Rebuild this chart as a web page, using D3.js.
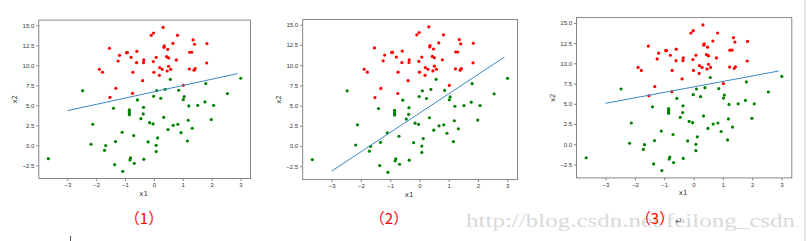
<!DOCTYPE html>
<html>
<head>
<meta charset="utf-8">
<script src="https://cdn.jsdelivr.net/npm/d3@7"></script>
<style>
  body { margin: 0; background: #fff; }
  svg { display: block; }
</style>
</head>
<body>
<div class="chart"></div>
<script>
// red class points (x1, x2)
const redX = [0.32, -0.01, -0.09, 0.82, 1.36, 1.41, 1.84, 0.66, 0.36, 0.35, -1.54, 0.48, -0.59, -0.95, -0.92,
  -1.19, 1.24, 1.31, -0.79, 0.08, 0.44, 0.51, -0.35, 0.78, -1.24, -0.60, -0.36, -0.02, 1.83, -1.89,
  -1.78, -0.73, 0.0, 0.2, 0.29, 0.51, 0.58, 0.46, 1.23, 1.39, 1.43, 0.19, -0.39, -1.32, 1.02, -0.74, -1.52]
const redY = [14.75, 14.04, 13.75, 13.75, 13.17, 12.63, 12.71, 12.75, 12.42, 12.25, 12.13, 12.0, 11.75, 11.58, 11.58,
  11.25, 11.63, 11.63, 11.0, 11.0, 11.08, 10.92, 10.67, 10.67, 10.54, 10.33, 10.33, 10.46, 10.29, 9.5,
  9.13, 9.13, 9.13, 9.71, 9.5, 9.88, 9.5, 9.29, 9.54, 9.38, 9.58, 8.75, 8.08, 7.13, 7.5, 6.5, 6.0]

// green class points
const greenX = [3.01, 0.57, 1.80, -2.47, 0.39, 0.10, 0.86, 2.55, -0.01, 0.24, 1.05, 1.02, -0.57, -1.40, 1.21,
  1.52, 1.77, 2.07, -0.36, -0.85, -0.85, -0.85, -0.85, -0.37, -0.45, -0.15, -0.03, 0.34, 1.19, 1.99,
  -2.12, 0.67, 0.83, 1.33, 0.49, -1.10, 0.94, -0.70, 0.13, -0.20, -1.33, 1.16, -2.18, -1.67, 0.08,
  -1.71, 0.08, -3.66, -0.81, -0.83, -0.35, -0.68, -1.36, -1.08]
const greenY = [8.38, 8.25, 7.71, 6.83, 7.0, 6.83, 6.88, 6.46, 6.13, 5.88, 6.08, 5.71, 5.67, 4.63, 4.92,
  5.0, 5.42, 5.0, 4.75, 4.42, 4.21, 4.0, 3.83, 3.92, 3.33, 2.83, 2.67, 3.5, 3.13, 3.21,
  2.63, 2.5, 2.63, 2.13, 1.96, 1.63, 1.58, 1.21, 0.92, 0.42, 0.46, 0.54, 0.13, -0.04, 0.0,
  -0.63, -0.79, -1.67, -1.58, -1.83, -1.75, -2.25, -2.42, -3.25]

// decision boundary end points for each of the three runs
const lineX = [-3, 2.9]
const lineY1 = [4.33, 8.96]
const lineY2 = [-3.1, 11.0]
const lineY3 = [5.06, 9.05]

const xTicks = [-3, -2, -1, 0, 1, 2, 3]
const yTicks = [-2.5, 0, 2.5, 5, 7.5, 10, 12.5, 15]
const captions = ['（1）', '（2）', '（3）']

const panels = [
  { left: 38.8, right: 250.5, top: 20.1, bottom: 178.5, lineY: lineY1, cx: 144 },
  { left: 302.7, right: 517.5, top: 19.5, bottom: 179.6, lineY: lineY2, cx: 389 },
  { left: 576.5, right: 791.8, top: 17.6, bottom: 177.9, lineY: lineY3, cx: 655 }
]

const width = 808
const height = 241

const svg = d3.select('.chart')
  .append('svg')
  .attr('width', width)
  .attr('height', height)
  .style('font-family', 'DejaVu Sans')

const red = redX.map((x, i) => [x, redY[i]])
const green = greenX.map((x, i) => [x, greenY[i]])

panels.forEach((p, k) => {
  const x = d3.scaleLinear().domain([-3.99, 3.35]).range([p.left, p.right])
  const y = d3.scaleLinear().domain([-4.15, 15.65]).range([p.bottom, p.top])
  const g = svg.append('g')

  const xAxis = g.append('g')
    .attr('transform', `translate(0, ${p.bottom})`)
    .call(d3.axisBottom(x).tickValues(xTicks).tickSize(2.5).tickPadding(2)
      .tickFormat(d => d < 0 ? '\u2212' + Math.abs(d) : d))
  const yAxis = g.append('g')
    .attr('transform', `translate(${p.left}, 0)`)
    .call(d3.axisLeft(y).tickValues(yTicks).tickSize(2.5).tickPadding(2)
      .tickFormat(d => (d < 0 ? '\u2212' : '') + Math.abs(d).toFixed(1)))

  ;[xAxis, yAxis].forEach(a => {
    a.select('.domain').remove()
    a.selectAll('line').attr('stroke', '#555').attr('stroke-width', 0.7)
    a.selectAll('text').attr('fill', '#333').style('font-size', '6px')
  })

  // frame
  g.append('rect')
    .attr('x', p.left).attr('y', p.top)
    .attr('width', p.right - p.left).attr('height', p.bottom - p.top)
    .attr('fill', 'none').attr('stroke', '#7a7a7a').attr('stroke-width', 0.9)

  g.selectAll('circle.red')
    .data(red)
    .join('circle')
    .attr('class', 'red')
    .attr('cx', d => x(d[0]))
    .attr('cy', d => y(d[1]))
    .attr('r', 1.6)
    .attr('fill', '#ff0000')

  g.selectAll('circle.green')
    .data(green)
    .join('circle')
    .attr('class', 'green')
    .attr('cx', d => x(d[0]))
    .attr('cy', d => y(d[1]))
    .attr('r', 1.6)
    .attr('fill', '#008000')

  g.append('path')
    .datum(lineX.map((v, i) => [v, p.lineY[i]]))
    .attr('d', d3.line().x(d => x(d[0])).y(d => y(d[1])))
    .attr('fill', 'none')
    .attr('stroke', '#3a88c4')
    .attr('stroke-width', 1)

  g.append('text')
    .attr('x', (p.left + p.right) / 2 - 1)
    .attr('y', p.bottom + 17)
    .attr('text-anchor', 'middle')
    .style('font-size', '7px')
    .attr('fill', '#333')
    .text('x1')

  g.append('text')
    .attr('transform', `translate(${p.left - 22}, ${(p.top + p.bottom) / 2}) rotate(-90)`)
    .attr('text-anchor', 'middle')
    .style('font-size', '7px')
    .attr('fill', '#333')
    .text('x2')
})

// blog watermark
svg.append('text')
  .attr('x', 466)
  .attr('y', 227)
  .attr('textLength', 329)
  .attr('lengthAdjust', 'spacingAndGlyphs')
  .style('font-family', 'Liberation Serif')
  .style('font-size', '19px')
  .attr('fill', '#d9d9d9')
  .text('http://blog.csdn.net/feilong_csdn')

panels.forEach((p, k) => {
  svg.append('text')
    .attr('x', p.cx)
    .attr('y', 224)
    .attr('text-anchor', 'middle')
    .style('font-family', 'Noto Sans CJK SC')
    .style('font-size', '15px')
    .attr('fill', '#ff0000')
    .text(captions[k])
})

svg.append('text')
  .attr('x', 675)
  .attr('y', 224)
  .style('font-size', '9px')
  .attr('fill', '#666')
  .text('\u21b5')

// text cursor and page edge
svg.append('line')
  .attr('x1', 70.5).attr('x2', 70.5).attr('y1', 236).attr('y2', 241)
  .attr('stroke', '#555').attr('stroke-width', 1)

svg.append('line')
  .attr('x1', 805).attr('x2', 805).attr('y1', 0).attr('y2', height)
  .attr('stroke', '#e2e2e2').attr('stroke-width', 2)
</script>
</body>
</html>
